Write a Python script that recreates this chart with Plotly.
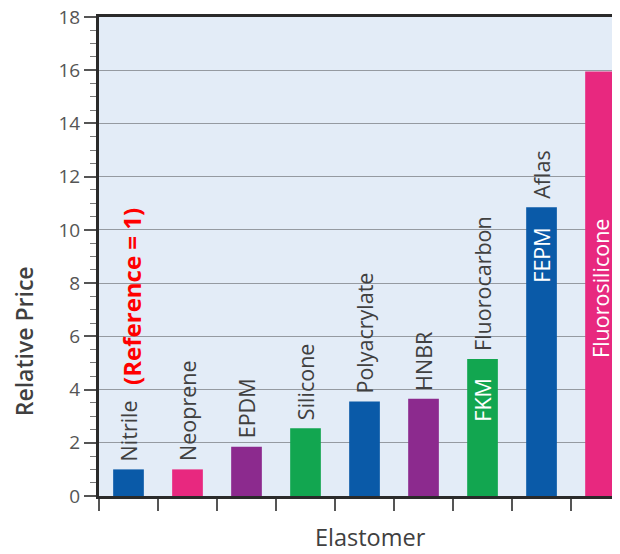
import plotly.graph_objects as go

# ---- data ----
elastomers = ["Nitrile", "Neoprene", "EPDM", "Silicone", "Polyacrylate",
              "HNBR", "Fluorocarbon", "Aflas", "Fluorosilicone"]
relative_price = [1.0, 1.0, 1.85, 2.55, 3.55, 3.65, 5.15, 10.85, 15.95]
bar_colors = ["#0a5aa8", "#e8287f", "#8c2a8e", "#12a650", "#0a5aa8",
              "#8c2a8e", "#12a650", "#0a5aa8", "#e8287f"]
# white labels written inside some bars (category, text, y-centre)
inside_labels = [("Fluorocarbon", "FKM", 3.6), ("Aflas", "FEPM", 9.05),
                 ("Fluorosilicone", "Fluorosilicone", 7.8)]
outside_skip = ["Fluorosilicone"]   # name already shown inside the bar

FONT = "Open Sans"
TXT = "#404040"
LBL = 21.5

fig = go.Figure()
fig.add_trace(go.Bar(
    x=elastomers, y=relative_price,
    marker=dict(color=bar_colors, line_width=0),
    width=0.52,
    hoverinfo="x+y",
))

# category names above bars
for name, val in zip(elastomers, relative_price):
    if name in outside_skip:
        continue
    fig.add_annotation(
        x=name, y=val, text=name, textangle=-90,
        xanchor="center", yanchor="bottom", yshift=6,
        showarrow=False,
        font=dict(family=FONT, size=LBL, color=TXT),
    )

for cat, txt, yc in inside_labels:
    fig.add_annotation(
        x=cat, y=yc, text=txt, textangle=-90,
        xanchor="center", yanchor="middle", showarrow=False,
        font=dict(family=FONT, size=LBL, color="white"),
    )

# reference note
fig.add_annotation(
    x="Nitrile", y=4.1, text="<b>(Reference = 1)</b>", textangle=-90,
    xanchor="center", yanchor="bottom", xshift=3, showarrow=False,
    font=dict(family=FONT, size=24, color="#ff0000"),
)

# axis titles as free annotations (y title sits low in the reference)
fig.add_annotation(
    xref="paper", yref="paper", x=-0.145, y=0.324, text="Relative Price",
    textangle=-90, xanchor="center", yanchor="middle", showarrow=False,
    font=dict(family=FONT, size=23, color=TXT, weight=600),
)
fig.add_annotation(
    xref="paper", yref="paper", x=0.522, y=-0.086, text="Elastomer",
    xanchor="center", yanchor="middle", showarrow=False,
    font=dict(family=FONT, size=23.5, color=TXT),
)

fig.update_xaxes(
    type="category", range=[-0.5, 8.33],
    showticklabels=False, showgrid=False,
    ticks="outside", ticklen=12, tickwidth=1.5, tickcolor="#555",
    tickson="boundaries", automargin=False,
    showline=True, linecolor="#2a2a2a", linewidth=2.5, mirror=True,
)
fig.update_yaxes(
    range=[0, 18], dtick=2, automargin=False,
    ticklabeloverflow="allow",   # keep the "18" label at the very top
    ticks="outside", ticklen=12, tickwidth=1.5, tickcolor="#555",
    minor=dict(dtick=0.5, ticks="outside", ticklen=6, tickcolor="#777", tickwidth=1,
               showgrid=False),
    showgrid=True, gridcolor="#959aa1", gridwidth=1.2,
    showline=True, linecolor="#2a2a2a", linewidth=3,
    tickfont=dict(family=FONT, size=19, color="#555"),
    zeroline=False,
)

# page body has an 8px margin, so the figure is sized/offset to compensate
fig.update_layout(
    width=612, height=546,
    margin=dict(l=91, r=0, t=9, b=58),
    plot_bgcolor="#e3ecf7",
    paper_bgcolor="white",
    showlegend=False,
)

fig.write_html("out.html")
